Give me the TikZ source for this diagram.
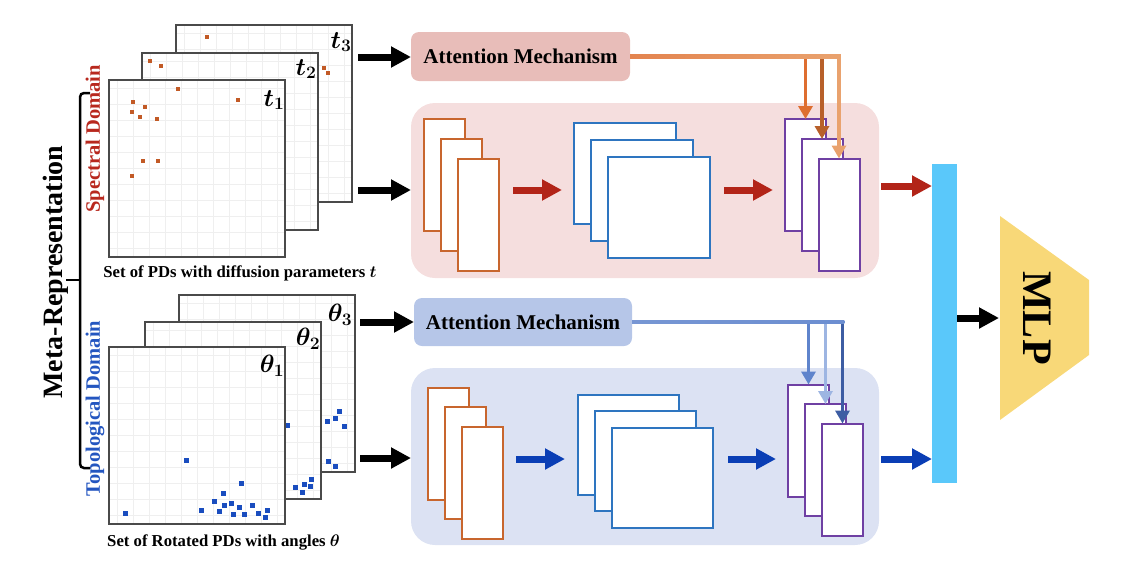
\RequirePackage{fix-cm}
\documentclass[tikz,border=0pt]{standalone}
\usepackage{fontspec}
\setmainfont{Liberation Serif}
\usetikzlibrary{arrows.meta,calc}
\definecolor{frameC}{HTML}{4A4A4A}
\definecolor{gridC}{HTML}{EFEFEF}
\definecolor{ptO}{HTML}{C25A26}
\definecolor{ptB}{HTML}{1A4DBF}
\definecolor{specC}{HTML}{B8281E}
\definecolor{topoC}{HTML}{2456C0}
\definecolor{attTC}{HTML}{E8BDB9}
\definecolor{attBC}{HTML}{B6C6E8}
\definecolor{panTC}{HTML}{F5DEDE}
\definecolor{panBC}{HTML}{DCE2F3}
\definecolor{orangeC}{HTML}{C8662E}
\definecolor{blueC}{HTML}{2E75C0}
\definecolor{purpleC}{HTML}{6F40A3}
\definecolor{redA}{HTML}{B22418}
\definecolor{blueA}{HTML}{0A3EB5}
\definecolor{cyanC}{HTML}{5AC8FA}
\definecolor{mlpC}{HTML}{F8D878}
\definecolor{oa1}{HTML}{DE6E30}
\definecolor{oa2}{HTML}{B8602A}
\definecolor{oa3}{HTML}{E9A26E}
\definecolor{ba1}{HTML}{5F84CC}
\definecolor{ba2}{HTML}{9DB5E2}
\definecolor{ba3}{HTML}{3D5DA3}
\tikzset{
  frameline/.style={draw=frameC, line width=1.4pt},
  gridline/.style={draw=gridC, line width=0.6pt},
  panelbox/.style={rounded corners=24pt, inner sep=0pt, outer sep=0pt},
  attbox/.style={rounded corners=8pt, minimum width=219pt, minimum height=49pt, inner sep=0pt, outer sep=0pt, font=\bfseries\fontsize{21}{24}\selectfont},
  ostack/.style={draw=orangeC, fill=white, line width=2pt, minimum width=41pt, minimum height=112pt, inner sep=0pt, outer sep=0pt},
  bstack/.style={draw=blueC, fill=white, line width=2pt, minimum width=102pt, minimum height=101pt, inner sep=0pt, outer sep=0pt},
  pstack/.style={draw=purpleC, fill=white, line width=2pt, minimum width=41pt, minimum height=112pt, inner sep=0pt, outer sep=0pt},
  bigarrow/.style={line width=7pt, -{Triangle[length=20pt,width=20pt]}},
  attarrow/.style={line width=3.5pt, -{Triangle[length=13pt,width=14pt]}},
  tlab/.style={inner sep=0pt, font=\boldmath\fontsize{25}{27}\selectfont},
  caplab/.style={inner sep=0pt, font=\bfseries\boldmath\fontsize{16.7}{19}\selectfont},
  domlab/.style={inner sep=0pt, rotate=90, font=\bfseries\fontsize{20.5}{23}\selectfont},
}
\newcommand\pdframe[2]{%
  \begin{scope}[shift={(#1,#2)}]
    \fill[white] (0,0) rectangle (176,177);
    \foreach \g in {8,24,...,168} {\draw[gridline] (\g,0) -- (\g,177); \draw[gridline] (0,\g) -- (176,\g);}
    \draw[frameline] (0,0) rectangle (176,177);
  \end{scope}}
\newcommand\pdpts[3]{\foreach \px/\py in {#3} {\fill[#1] (\px-#2,\py-#2) rectangle (\px+#2,\py+#2);}}
\begin{document}
\begin{tikzpicture}[x=1pt,y=-1pt]
\useasboundingbox (0,0) rectangle (1128,566);
% ---------- spectral stack ----------
\pdframe{176}{25}
\pdpts{ptO}{2.3}{207/37}
\pdframe{142}{53}
\pdpts{ptO}{2.3}{150/61,161/66,324/68,328/73}
\pdframe{109}{80}
\pdpts{ptO}{2.3}{133/102,145/107,132/112,140/117,157/119,178/89,238/100,143/161,158/161,132/176}
\node[tlab] (tT3) at (341,42) {$t_3$};
\node[tlab] (tT2) at (306,69) {$t_2$};
\node[tlab] (tT1) at (274,100) {$t_1$};
\node[caplab] (capT) at (240,273) {Set of PDs with diffusion parameters $t$};
% ---------- topological stack ----------
\pdframe{179}{295}
\pdpts{ptB}{2.5}{327/421,335/418,339/411,344/426,328/461,335/466}
\pdframe{145}{322}
\pdpts{ptB}{2.5}{287/425,295/487,302/492,304/484,310/486,311/479}
\pdframe{109}{347}
\pdpts{ptB}{2.5}{186/460,125/513,201/510,214/501,223/493,224/505,219/511,231/503,233/514,239/507,241/483,244/514,252/505,258/513,265/517,267/510}
\node[tlab] (tB3) at (340,315) {$\theta_3$};
\node[tlab] (tB2) at (308,339) {$\theta_2$};
\node[tlab] (tB1) at (272,366) {$\theta_1$};
\node[caplab] (capB) at (223.5,542) {Set of Rotated PDs with angles $\theta$};
% ---------- left labels ----------
\node[inner sep=0pt, rotate=90, font=\bfseries\fontsize{28}{30}\selectfont] (meta) at (56,272) {Meta-Representation};
\node[domlab, text=specC] (spec) at (95,139) {Spectral Domain};
\node[domlab, text=topoC] (topo) at (95,408.5) {Topological Domain};
\draw[line width=2.5pt, rounded corners=4pt] (90,93) -- (80,93) -- (80,468) -- (90,468);
\draw[line width=2.5pt] (80,280) -- (66,280);
% ---------- panels ----------
\node[panelbox, fill=panTC, minimum width=468pt, minimum height=175pt] (panT) at (645,190.5) {};
\node[panelbox, fill=panBC, minimum width=468pt, minimum height=177pt] (panB) at (645,456.5) {};
\node[attbox, fill=attTC] (attT) at (520.5,56.5) {Attention Mechanism};
\node[attbox, fill=attBC, minimum width=218pt, minimum height=48pt] (attB) at (523,322) {Attention Mechanism};
% top panel stacks
\node[ostack] (oT1) at (444,175) {};
\node[ostack] (oT2) at (461.5,195) {};
\node[ostack] (oT3) at (478.5,214.5) {};
\node[bstack] (bT1) at (624.5,173.5) {};
\node[bstack] (bT2) at (642,190) {};
\node[bstack] (bT3) at (659,207) {};
\node[pstack] (pT1) at (805.5,175) {};
\node[pstack] (pT2) at (822,195) {};
\node[pstack] (pT3) at (839,214.5) {};
% bottom panel stacks
\node[ostack] (oB1) at (448,443.5) {};
\node[ostack] (oB2) at (465,463) {};
\node[ostack] (oB3) at (482,482.5) {};
\node[bstack, minimum width=101pt, minimum height=100pt] (bB1) at (628.5,444.5) {};
\node[bstack, minimum width=101pt, minimum height=100pt] (bB2) at (645.5,461) {};
\node[bstack, minimum width=101pt, minimum height=100pt] (bB3) at (662.5,478) {};
\node[pstack] (pB1) at (808.5,440.5) {};
\node[pstack] (pB2) at (825.5,460) {};
\node[pstack] (pB3) at (842.5,479.5) {};
% ---------- attention connectors ----------
\draw[attarrow, draw=oa3] (attT.east) -| (pT3.north);
\draw[attarrow, draw=oa2] (attT.east) -| (pT2.north);
\draw[attarrow, draw=oa1] (attT.east) -| (pT1.north);
\shade[left color=oa1!85!white, middle color=oa3!25!white, right color=oa3] ($(attT.east)+(0,-1.75)$) rectangle ($(attT.east -| pT3.north)+(1.75,1.75)$);
\draw[attarrow, draw=ba3] (attB.east) -| (pB3.north);
\draw[attarrow, draw=ba2] (attB.east) -| (pB2.north);
\draw[attarrow, draw=ba1] (attB.east) -| (pB1.north);
\shade[left color=ba1!85!white, right color=ba1!80!ba2] ($(attB.east)+(0,-1.75)$) rectangle ($(attB.east -| pB3.north)+(1.75,1.75)$);
% ---------- black input arrows ----------
\coordinate (s1) at (358,57);
\coordinate (s2) at (358,190);
\coordinate (s3) at (360,322);
\coordinate (s4) at (360,458);
\draw[bigarrow] (s1) -- (s1 -| attT.west);
\draw[bigarrow] (s2) -- (s2 -| panT.west);
\draw[bigarrow] (s3) -- (s3 -| attB.west);
\draw[bigarrow] (s4) -- (s4 -| panB.west);
% ---------- inner arrows ----------
\coordinate (r1a) at (513,190); \coordinate (r1b) at (562,190);
\coordinate (r2a) at (724,190); \coordinate (r2b) at (773,190);
\coordinate (u1a) at (516,459); \coordinate (u1b) at (565,459);
\coordinate (u2a) at (728,459); \coordinate (u2b) at (776,459);
\draw[bigarrow, draw=redA] (r1a) -- (r1b);
\draw[bigarrow, draw=redA] (r2a) -- (r2b);
\draw[bigarrow, draw=blueA] (u1a) -- (u1b);
\draw[bigarrow, draw=blueA] (u2a) -- (u2b);
% ---------- concat and MLP ----------
\node[fill=cyanC, minimum width=25pt, minimum height=319pt, inner sep=0pt, outer sep=0pt] (concat) at (944.5,323.5) {};
\fill[mlpC] (1000,216) -- (1089,280) -- (1089,355) -- (1000,420) -- cycle;
\coordinate (mlpW) at (999,318);
\node[inner sep=0pt, rotate=-90, font=\bfseries\fontsize{42}{44}\selectfont] (mlp) at (1037,318) {MLP};
\coordinate (rOut) at (881,186);
\coordinate (bOut) at (881,459);
\draw[bigarrow, draw=redA] (rOut) -- (rOut -| concat.west);
\draw[bigarrow, draw=blueA] (bOut) -- (bOut -| concat.west);
\draw[bigarrow] (concat.east |- mlpW) -- (mlpW);
\end{tikzpicture}
\end{document}
